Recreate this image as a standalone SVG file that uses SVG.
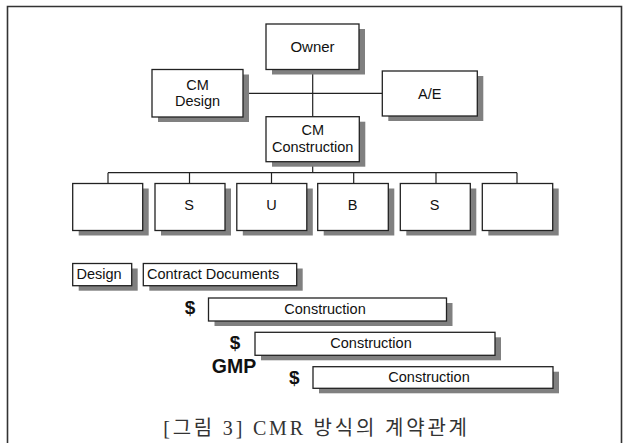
<svg xmlns="http://www.w3.org/2000/svg" width="629" height="443" viewBox="0 0 629 443">
<style>
.box{fill:#fff;stroke:#222;stroke-width:1.3}
.sh{fill:#808080}
.ln{stroke:#222;stroke-width:1.2;fill:none}
.t{font-family:"Liberation Sans",Arial,sans-serif;font-size:14.5px;fill:#111;text-anchor:middle}
.tl{font-family:"Liberation Sans",Arial,sans-serif;font-size:14.5px;fill:#111}
.b{font-family:"Liberation Sans",Arial,sans-serif;font-weight:bold;fill:#111;text-anchor:middle}
.cap{font-family:"Liberation Serif","Noto Sans CJK KR",serif;font-size:20px;fill:#333;text-anchor:middle;letter-spacing:2.8px}
</style>
<rect width="629" height="443" fill="#fff"/>
<path d="M7.5 443 V6.5 H621.5 V443" fill="none" stroke="#333" stroke-width="1.6"/>
<g id="connectors" class="ln">
<path d="M312.7 69.5 V116.7"/>
<path d="M243 93.3 H382.3"/>
<path d="M312.7 161.7 V172.7"/>
<path d="M108 172.7 H517"/>
<path d="M108 172.7 V183.5 M189.5 172.7 V183.5 M271.5 172.7 V183.5 M353.7 172.7 V183.5 M436 172.7 V183.5 M517 172.7 V183.5"/>
</g>
<g id="owner"><rect class="sh" x="272" y="29" width="93" height="45.5"/><rect class="box" x="266" y="24" width="93" height="45.5"/><text class="t" x="312.5" y="52" style="font-size:15px">Owner</text></g>
<g id="cm-design"><rect class="sh" x="158" y="74.5" width="91" height="47.5"/><rect class="box" x="152" y="69.5" width="91" height="47.5"/><text class="t" x="197.5" y="90">CM</text><text class="t" x="197.5" y="106">Design</text></g>
<g id="ae"><rect class="sh" x="388.3" y="76" width="95" height="45"/><rect class="box" x="382.3" y="71" width="95" height="45"/><text class="t" x="429.8" y="98.5">A/E</text></g>
<g id="cm-construction"><rect class="sh" x="272" y="121.7" width="93.3" height="45"/><rect class="box" x="266" y="116.7" width="93.3" height="45"/><text class="t" x="312.7" y="135">CM</text><text class="t" x="312.7" y="152">Construction</text></g>
<g id="sub1"><rect class="sh" x="78.7" y="188.5" width="70" height="47"/><rect class="box" x="72.7" y="183.5" width="70" height="47"/></g>
<g id="sub2"><rect class="sh" x="161" y="188.5" width="70" height="47"/><rect class="box" x="155" y="183.5" width="70" height="47"/><text class="t" x="189" y="210">S</text></g>
<g id="sub3"><rect class="sh" x="242.8" y="188.5" width="70" height="47"/><rect class="box" x="236.8" y="183.5" width="70" height="47"/><text class="t" x="271.5" y="210">U</text></g>
<g id="sub4"><rect class="sh" x="323.7" y="188.5" width="70.6" height="47"/><rect class="box" x="317.7" y="183.5" width="70.6" height="47"/><text class="t" x="352.5" y="210">B</text></g>
<g id="sub5"><rect class="sh" x="406.3" y="188.5" width="70" height="47"/><rect class="box" x="400.3" y="183.5" width="70" height="47"/><text class="t" x="434.5" y="210">S</text></g>
<g id="sub6"><rect class="sh" x="488.3" y="188.5" width="70.4" height="47"/><rect class="box" x="482.3" y="183.5" width="70.4" height="47"/></g>
<g id="design"><rect class="sh" x="78.7" y="268.5" width="59" height="22.2"/><rect class="box" x="72.7" y="263.5" width="59" height="22.2"/><text class="tl" x="76.5" y="279">Design</text></g>
<g id="contract-documents"><rect class="sh" x="149.3" y="268.5" width="153.4" height="22.2"/><rect class="box" x="143.3" y="263.5" width="153.4" height="22.2"/><text class="tl" x="147" y="279">Contract Documents</text></g>
<g id="construction1"><rect class="sh" x="214.5" y="303" width="238" height="23"/><rect class="box" x="208.5" y="298" width="238" height="23"/><text class="t" x="325" y="314">Construction</text></g>
<g id="construction2"><rect class="sh" x="261" y="337.3" width="240" height="23"/><rect class="box" x="255" y="332.3" width="240" height="23"/><text class="t" x="371" y="348">Construction</text></g>
<g id="construction3"><rect class="sh" x="319" y="371.7" width="240" height="21.6"/><rect class="box" x="313" y="366.7" width="240" height="21.6"/><text class="t" x="429" y="382">Construction</text></g>
<g id="labels">
<text class="b" x="190" y="314" style="font-size:19px">$</text>
<text class="b" x="235" y="348.5" style="font-size:19px">$</text>
<text class="b" x="234" y="373.3" style="font-size:19.5px">GMP</text>
<text class="b" x="294.3" y="383.5" style="font-size:19px">$</text>
</g>
<text class="cap" x="316.5" y="435">[그림 3] CMR 방식의 계약관계</text>
</svg>
